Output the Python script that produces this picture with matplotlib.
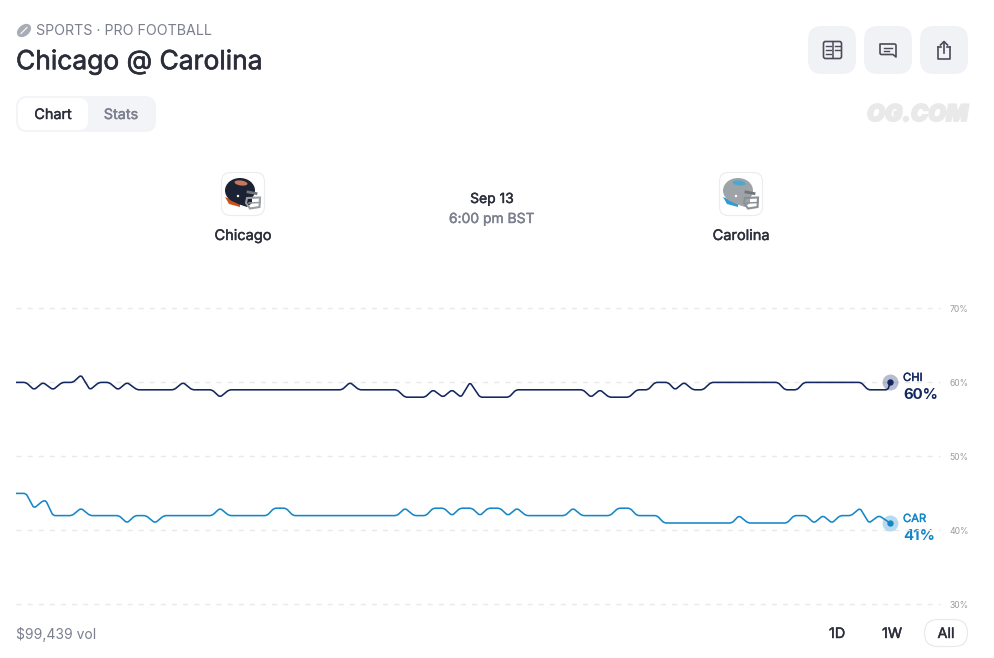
import matplotlib
matplotlib.use("Agg")
import matplotlib.pyplot as plt
import matplotlib.patheffects as pe
from matplotlib.patches import FancyBboxPatch, Ellipse, Polygon, PathPatch, Circle
from matplotlib.path import Path

plt.rcParams["font.family"] = ["Inter", "DejaVu Sans"]

# time position along the chart and the price in percent
chi_time = [16, 26, 34, 43, 53, 62, 73, 81, 90, 99, 109, 118, 127, 137, 174, 183, 192, 212, 220, 229,
            342, 350, 359, 397, 405, 425, 433, 443, 452, 461, 470, 480, 509, 516, 583, 591, 600, 609,
            629, 637, 648, 655, 668, 675, 684, 693, 703, 711, 778, 785, 797, 804, 861, 868, 888, 890]
chi_pct = [60, 60, 59, 60, 59, 60, 60, 61, 59, 60, 60, 59, 60, 59, 59, 60, 59, 59, 58, 59,
           59, 60, 59, 59, 58, 58, 59, 58, 59, 58, 60, 58, 58, 59, 59, 58, 59, 58,
           58, 59, 59, 60, 60, 59, 60, 59, 59, 60, 60, 59, 59, 60, 60, 59, 59, 60]
car_time = [16, 26, 34, 43, 46, 53, 72, 81, 90, 119, 127, 135, 146, 155, 164, 212, 220, 229, 267, 274,
            286, 293, 397, 405, 414, 426, 433, 444, 452, 460, 472, 480, 488, 500, 508, 517, 526, 565,
            573, 582, 610, 618, 630, 637, 657, 664, 732, 739, 748, 787, 794, 806, 814, 823, 832, 840,
            851, 860, 869, 879, 890]
car_pct = [45, 45, 43, 44, 44, 42, 42, 43, 42, 42, 41, 42, 42, 41, 42, 42, 43, 42, 42, 43,
           43, 42, 42, 43, 42, 42, 43, 43, 42, 43, 43, 42, 43, 43, 42, 43, 42, 42,
           43, 42, 42, 43, 43, 42, 42, 41, 41, 42, 41, 41, 42, 42, 41, 42, 41, 42,
           42, 43, 41, 42, 41]
y_ticks = [30, 40, 50, 60, 70]
team_names = ["Chicago", "Carolina"]
team_codes = ["CHI", "CAR"]
range_labels = ["1D", "1W", "All"]

CHI_COLOR = "#12275f"
CAR_COLOR = "#1587c8"
DARK = "#2b2e3a"
GREY = "#7b7f8e"
BTN = "#f1f2f6"


def rounded_line(xs, ys, px_per_y, r=2.5):
    # straight segments with small rounded corners, like the site's curve
    verts = [(xs[0], ys[0])]
    codes = [Path.MOVETO]
    for i in range(1, len(xs) - 1):
        prev_len = ((xs[i] - xs[i-1])**2 + ((ys[i] - ys[i-1]) * px_per_y)**2)**0.5
        next_len = ((xs[i+1] - xs[i])**2 + ((ys[i+1] - ys[i]) * px_per_y)**2)**0.5
        a = min(r / prev_len, 0.45)
        b = min(r / next_len, 0.45)
        verts.append((xs[i] - (xs[i] - xs[i-1]) * a, ys[i] - (ys[i] - ys[i-1]) * a))
        codes.append(Path.LINETO)
        verts.append((xs[i], ys[i]))
        codes.append(Path.CURVE3)
        verts.append((xs[i] + (xs[i+1] - xs[i]) * b, ys[i] + (ys[i+1] - ys[i]) * b))
        codes.append(Path.CURVE3)
    verts.append((xs[-1], ys[-1]))
    codes.append(Path.LINETO)
    return Path(verts, codes)


def box(ax, x0, y0, x1, y1, rad, fc, ec="none", lw=1, z=1):
    ax.add_patch(FancyBboxPatch((x0 + rad, y0 + rad), x1 - x0 - 2 * rad, y1 - y0 - 2 * rad,
                                boxstyle=f"round,pad={rad},rounding_size={rad}",
                                fc=fc, ec=ec, lw=lw, zorder=z))


def medium(txt, w=0.3):
    # the installed Inter only comes out regular, so thicken it a little
    txt.set_path_effects([pe.withStroke(linewidth=w, foreground=txt.get_color())])
    return txt


def helmet(ax, dx, shell, stripe, logo, cage):
    box(ax, 221.5 + dx, 172.5, 264.5 + dx, 215.5, 9, "white", "#ececef", 0.8)
    ax.add_patch(Polygon([(225 + dx, 197), (240 + dx, 203), (240 + dx, 207), (229 + dx, 204)],
                         fc=stripe, ec="none", zorder=2))
    ax.add_patch(Ellipse((240 + dx, 190.5), 30, 25, fc=shell, ec="none", zorder=3))
    ax.add_patch(Polygon([(231 + dx, 200), (252 + dx, 194), (252 + dx, 203), (247 + dx, 207), (238 + dx, 204)],
                         fc=shell, ec="none", zorder=3))
    ax.add_patch(Ellipse((241 + dx, 183), 13, 5, angle=8, fc=logo, ec="none", zorder=4))
    mask = [(247, 198), (260, 197.5), (259.5, 207), (250, 208.5), (246, 203)]
    ax.add_patch(Polygon([(x + dx, y) for x, y in mask], fc="none", ec=cage, lw=1.5, zorder=5))
    ax.plot([249 + dx, 260 + dx], [203, 202.5], color=cage, lw=1.1, zorder=5)
    ax.plot([248 + dx, 256 + dx], [192, 193.5], color="#70757a", lw=2, zorder=5)
    ax.add_patch(Circle((238 + dx, 196), 1.2, fc="white", ec="none", zorder=5))


fig = plt.figure(figsize=(9.95, 6.58), dpi=100, facecolor="white")

# page furniture in pixel coordinates
ui = fig.add_axes([0, 0, 1, 1])
ui.set_xlim(0, 995)
ui.set_ylim(658, 0)
ui.axis("off")

ui.add_patch(Ellipse((24, 30.5), 16, 11, angle=-40, fc="#a9acb5", ec="none"))
ui.plot([21, 27], [33.5, 27.5], color="white", lw=0.8)
ui.text(36, 31, "SPORTS · PRO FOOTBALL", fontsize=10.25, color=GREY, va="center")
medium(ui.text(16, 62, team_names[0] + " @ " + team_names[1], fontsize=19, color=DARK, va="center"), 0.45)

box(ui, 16, 96, 156, 132, 11, "#f3f4f8")
box(ui, 18, 98, 88, 130, 9, "white")
medium(ui.text(53, 115, "Chart", fontsize=10.4, color=DARK, ha="center", va="center", zorder=3))
medium(ui.text(121, 115, "Stats", fontsize=10.4, color=GREY, ha="center", va="center", zorder=3))

for x0 in [808, 864, 920]:
    box(ui, x0, 26, x0 + 48, 74, 14, BTN)
# book icon
box(ui, 823.5, 41.5, 841.5, 58.5, 2, "none", "#4a4d59", 1.2, 3)
ui.plot([832.5, 832.5], [42, 58], color="#4a4d59", lw=1.1, zorder=3)
for y in [46, 50, 54]:
    ui.plot([826, 830.5], [y, y], color="#4a4d59", lw=1, zorder=3)
for y in [46, 50]:
    ui.plot([835, 839.5], [y, y], color="#4a4d59", lw=1, zorder=3)
# comment icon
ui.add_patch(Polygon([(880, 44), (895, 44), (896, 45), (896, 57), (893, 54.5), (881, 54.5), (880, 53.5)],
                     fc="none", ec="#4a4d59", lw=1.2, joinstyle="round", zorder=3))
ui.plot([883.5, 892], [47.5, 47.5], color="#4a4d59", lw=1, zorder=3)
ui.plot([883.5, 889], [51, 51], color="#4a4d59", lw=1, zorder=3)
# share icon
ui.plot([938, 938, 950, 950], [47, 58.5, 58.5, 47], color="#4a4d59", lw=1.2, zorder=3)
ui.plot([938, 941], [47, 47], color="#4a4d59", lw=1.2, zorder=3)
ui.plot([947, 950], [47, 47], color="#4a4d59", lw=1.2, zorder=3)
ui.plot([944, 944], [41.5, 53], color="#4a4d59", lw=1.2, zorder=3)
ui.plot([940.5, 944, 947.5], [45, 41.5, 45], color="#4a4d59", lw=1.2, zorder=3)

medium(ui.text(968, 115, "OG.COM", fontsize=16.6, color="#e9e9ea", ha="right", va="center", weight=900, style="italic"), 1.3)

helmet(ui, 0, "#1b2233", "#c9531f", "#c8785a", "#9a9ea0")
helmet(ui, 498, "#9ea3a8", "#2f9bd0", "#4fa7cc", "#8b9093")
medium(ui.text(243, 236, team_names[0], fontsize=10.5, color=DARK, ha="center", va="center"))
medium(ui.text(741, 236, team_names[1], fontsize=10.5, color=DARK, ha="center", va="center"))
medium(ui.text(492, 199, "Sep 13", fontsize=10, color=DARK, ha="center", va="center"))
medium(ui.text(492, 219, "6:00 pm BST", fontsize=10, color=GREY, ha="center", va="center"))

ui.text(16, 634, "$99,439 vol", fontsize=10, color=GREY, va="center")
for label, cx in zip(range_labels, [837, 892, 946]):
    medium(ui.text(cx, 634, label, fontsize=10.4, color=DARK, ha="center", va="center", zorder=3))
box(ui, 924.5, 619.5, 967.5, 646.5, 13.5, "white", "#e9eaee", 0.9, 2)

medium(ui.text(903, 378, team_codes[0], fontsize=8.1, color=CHI_COLOR, va="center"))
ui.text(903, 395, f"{chi_pct[-1]}%", fontsize=10.8, color=CHI_COLOR, va="center", weight=700)
medium(ui.text(903, 519, team_codes[1], fontsize=8.1, color=CAR_COLOR, va="center"))
ui.text(903, 536, f"{car_pct[-1]}%", fontsize=10.8, color=CAR_COLOR, va="center", weight=700)

# the chart itself
ax = fig.add_axes([16 / 995, 1 - 604.4 / 658, (940 - 16) / 995, 296 / 658])
ax.patch.set_alpha(0)
ax.set_xlim(16, 940)
ax.set_ylim(30, 70)
ax.set_xticks([])
ax.set_yticks(y_ticks)
ax.set_yticklabels([f"{t}%" for t in y_ticks])
ax.yaxis.tick_right()
ax.tick_params(axis="y", length=0, pad=7, labelsize=6.2, labelcolor="#9a9ca3")
ax.grid(axis="y", color="#e9e9ea", lw=1, linestyle=(0, (3.6, 4.4)), clip_on=False)
ax.set_axisbelow(True)
for s in ax.spines.values():
    s.set_visible(False)

for xs, ys, color in [(chi_time, chi_pct, CHI_COLOR), (car_time, car_pct, CAR_COLOR)]:
    ax.add_patch(PathPatch(rounded_line(xs, ys, 7.4), fc="none", ec=color, lw=1.15, zorder=3, joinstyle="round"))
    ax.plot(xs[-1], ys[-1], "o", ms=11.5, color=color, alpha=0.3, mew=0, zorder=4, clip_on=False)
    ax.plot(xs[-1], ys[-1], "o", ms=4.6, color=color, mew=0, zorder=5, clip_on=False)

fig.savefig("out.png", dpi=100)
